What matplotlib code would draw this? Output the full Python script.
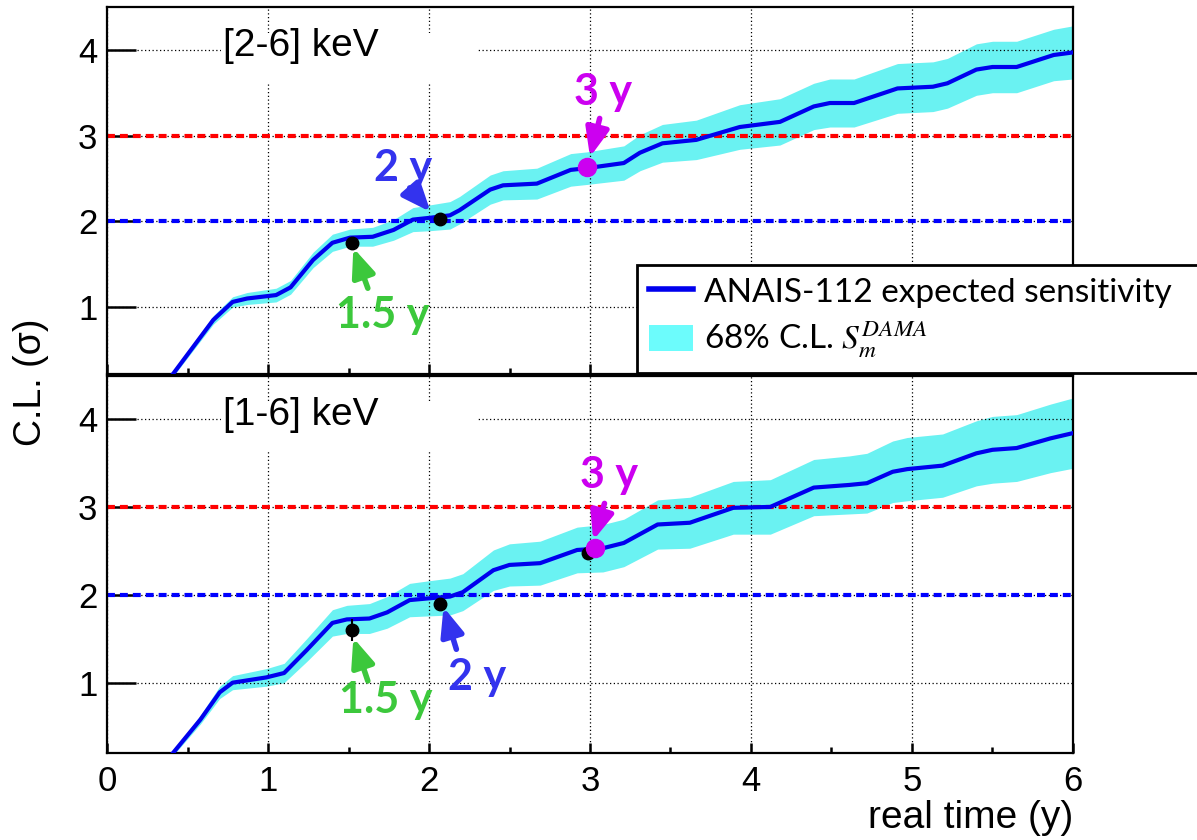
import matplotlib.pyplot as plt
import numpy as np
from matplotlib.lines import Line2D
from matplotlib.patches import Patch, Rectangle

plt.rcParams['font.family'] = ['Liberation Sans', 'DejaVu Sans']
plt.rcParams['mathtext.fontset'] = 'stix'

# expected sensitivity, [2-6] keV
t_26 = [0.41, 0.66, 0.78, 0.87, 1.05, 1.14, 1.28, 1.40, 1.51, 1.65, 1.78, 1.90, 2.00,
        2.13, 2.19, 2.38, 2.46, 2.67, 2.88, 2.98, 3.21, 3.31, 3.45, 3.66, 3.93, 4.18,
        4.39, 4.49, 4.64, 4.91, 5.13, 5.22, 5.40, 5.50, 5.65, 5.88, 6.00]
cl_26 = [0.22, 0.85, 1.06, 1.10, 1.14, 1.23, 1.55, 1.75, 1.81, 1.82, 1.90, 2.02, 2.04,
         2.07, 2.13, 2.37, 2.42, 2.44, 2.60, 2.62, 2.68, 2.80, 2.91, 2.95, 3.10, 3.16,
         3.34, 3.38, 3.38, 3.55, 3.57, 3.61, 3.77, 3.80, 3.80, 3.94, 3.97]
err_26 = [0.03, 0.05, 0.06, 0.07, 0.08, 0.08, 0.09, 0.10, 0.10, 0.11, 0.12, 0.14, 0.15,
          0.16, 0.16, 0.17, 0.17, 0.18, 0.19, 0.19, 0.20, 0.21, 0.22, 0.23, 0.26, 0.27,
          0.27, 0.28, 0.28, 0.29, 0.29, 0.29, 0.30, 0.30, 0.30, 0.30, 0.31]

# expected sensitivity, [1-6] keV
t_16 = [0.41, 0.58, 0.70, 0.78, 0.99, 1.10, 1.24, 1.40, 1.49, 1.63, 1.74, 1.88, 2.00,
        2.13, 2.21, 2.40, 2.50, 2.69, 2.92, 3.08, 3.21, 3.42, 3.62, 3.89, 4.12, 4.39,
        4.61, 4.72, 4.88, 4.97, 5.19, 5.40, 5.50, 5.65, 5.86, 6.00]
cl_16 = [0.20, 0.58, 0.89, 1.00, 1.06, 1.11, 1.37, 1.68, 1.72, 1.73, 1.80, 1.94, 1.96,
         1.98, 2.03, 2.28, 2.34, 2.36, 2.51, 2.53, 2.59, 2.80, 2.82, 2.99, 3.00, 3.22,
         3.25, 3.27, 3.40, 3.43, 3.47, 3.61, 3.65, 3.67, 3.78, 3.84]
err_16 = [0.03, 0.05, 0.07, 0.08, 0.10, 0.11, 0.13, 0.15, 0.16, 0.17, 0.18, 0.19, 0.20,
          0.21, 0.21, 0.23, 0.24, 0.25, 0.26, 0.27, 0.27, 0.28, 0.29, 0.30, 0.31, 0.32,
          0.33, 0.34, 0.35, 0.36, 0.36, 0.37, 0.38, 0.38, 0.39, 0.40]

# measured points (1.5 y, 2 y, 3 y)
pt_t_26 = [1.52, 2.07, 2.99]
pt_cl_26 = [1.75, 2.03, 2.63]
pt_err_26 = [0.05, 0.03, 0.03]
pt_t_16 = [1.52, 2.07, 2.99]
pt_cl_16 = [1.60, 1.90, 2.47]
pt_err_16 = [0.13, 0.05, 0.03]
mag_26 = (2.98, 2.63)
mag_16 = (3.03, 2.53)

line_col = '#0000EE'
band_col = '#6AF2F2'
green = '#3CC83C'
blue_txt = '#3333EE'
magenta = '#CC00F0'

fig = plt.figure(figsize=(11.97, 8.4), dpi=100)
ax1 = fig.add_axes([0.0894, 0.5548, 0.8070, 0.4369])
ax2 = fig.add_axes([0.0894, 0.1036, 0.8070, 0.4488])


def draw_panel(ax, t, cl, err, pt_t, pt_cl, pt_err, mag, label, ylim):
    t = np.array(t)
    cl = np.array(cl)
    err = np.array(err)
    ax.fill_between(t, cl - err, cl + err, color=band_col, lw=0, zorder=1)
    ax.plot(t, cl, color=line_col, lw=3, zorder=2.6)
    ax.axhline(2, color='#0000FF', lw=3, dashes=(1.9, 1.2), zorder=2.2)
    ax.axhline(3, color='#FF0000', lw=3, dashes=(1.9, 1.2), zorder=2.2)
    ax.errorbar(pt_t, pt_cl, yerr=pt_err, fmt='o', color='black', ms=9,
                elinewidth=1.5, capsize=0, zorder=3)
    ax.plot(*mag, 'o', color=magenta, ms=13, zorder=3.5)

    ax.set_xlim(0, 6)
    ax.set_ylim(*ylim)
    ax.set_yticks([1, 2, 3, 4])
    ax.set_xticks(range(7))
    ax.set_xticks(np.arange(0.5, 6, 1.0), minor=True)
    ax.grid(True, which='major', color='black', lw=0.9, linestyle=(0, (1, 2)))
    ax.set_axisbelow('line')
    ax.tick_params(axis='both', which='both', direction='in', top=False, right=False,
                   width=1.8, labelsize=25)
    ax.tick_params(axis='y', which='major', length=21, pad=7)
    ax.tick_params(axis='x', which='major', length=7, pad=9)
    ax.tick_params(axis='x', which='minor', length=4)
    for s in ax.spines.values():
        s.set_linewidth(1.6)

    # white pave behind the energy window label
    ax.add_patch(Rectangle((0.71, 3.62), 1.59, 0.58, facecolor='white',
                           edgecolor='none', zorder=1.8))
    ax.text(0.72, 4.05, label, fontsize=28, ha='left', va='center', zorder=4)


draw_panel(ax1, t_26, cl_26, err_26, pt_t_26, pt_cl_26, pt_err_26, mag_26,
           '[2-6] keV', (0.22, 4.5))
draw_panel(ax2, t_16, cl_16, err_16, pt_t_16, pt_cl_16, pt_err_16, mag_16,
           '[1-6] keV', (0.2, 4.49))
ax1.tick_params(axis='x', labelbottom=False)


def tag(ax, txt, pos, tail, tip, col):
    ax.annotate('', xy=tip, xytext=tail, zorder=5,
                arrowprops=dict(arrowstyle='-|>,head_length=0.85,head_width=0.35',
                                color=col, lw=4, mutation_scale=20,
                                shrinkA=0, shrinkB=0))
    ax.text(*pos, txt, color=col, fontsize=31, fontweight='bold',
            family=['Lato', 'DejaVu Sans'], ha='center', va='center', zorder=5)


tag(ax1, '1.5 y', (1.71, 0.91), (1.62, 1.22), (1.53, 1.69), green)
tag(ax1, '2 y', (1.84, 2.62), (1.88, 2.39), (2.01, 2.11), blue_txt)
tag(ax1, '3 y', (3.08, 3.51), (3.06, 3.20), (3.00, 2.75), magenta)
tag(ax2, '1.5 y', (1.73, 0.80), (1.62, 1.02), (1.53, 1.51), green)
tag(ax2, '2 y', (2.30, 1.07), (2.17, 1.38), (2.09, 1.86), blue_txt)
tag(ax2, '3 y', (3.12, 3.36), (3.09, 3.04), (3.02, 2.62), magenta)

fig.text(0.026, 1 - 382 / 840, 'C.L. (σ)', rotation=90, fontsize=27,
         ha='center', va='center')
fig.text(1073 / 1197, 1 - 818 / 840, 'real time (y)', fontsize=28,
         ha='right', va='center')

handles = [Line2D([], [], color=line_col, lw=4),
           Patch(facecolor='#6CFCFC', edgecolor='none')]
labels = ['ANAIS-112 expected sensitivity', '68% C.L. $S_m^{DAMA}$']
leg = fig.legend(handles, labels, loc='upper left',
                 bbox_to_anchor=(637 / 1197, 0.5, 0.6, 1 - 265 / 840 - 0.5),
                 mode='expand', prop={'family': ['Lato', 'DejaVu Sans'], 'size': 24},
                 fancybox=False, framealpha=1, edgecolor='black',
                 handlelength=1.3, handleheight=0.8, labelspacing=0.35,
                 borderpad=0.37, handletextpad=0.35, borderaxespad=0)
leg.get_frame().set_linewidth(2)
leg.set_zorder(10)

fig.savefig('out.png', dpi=100)
